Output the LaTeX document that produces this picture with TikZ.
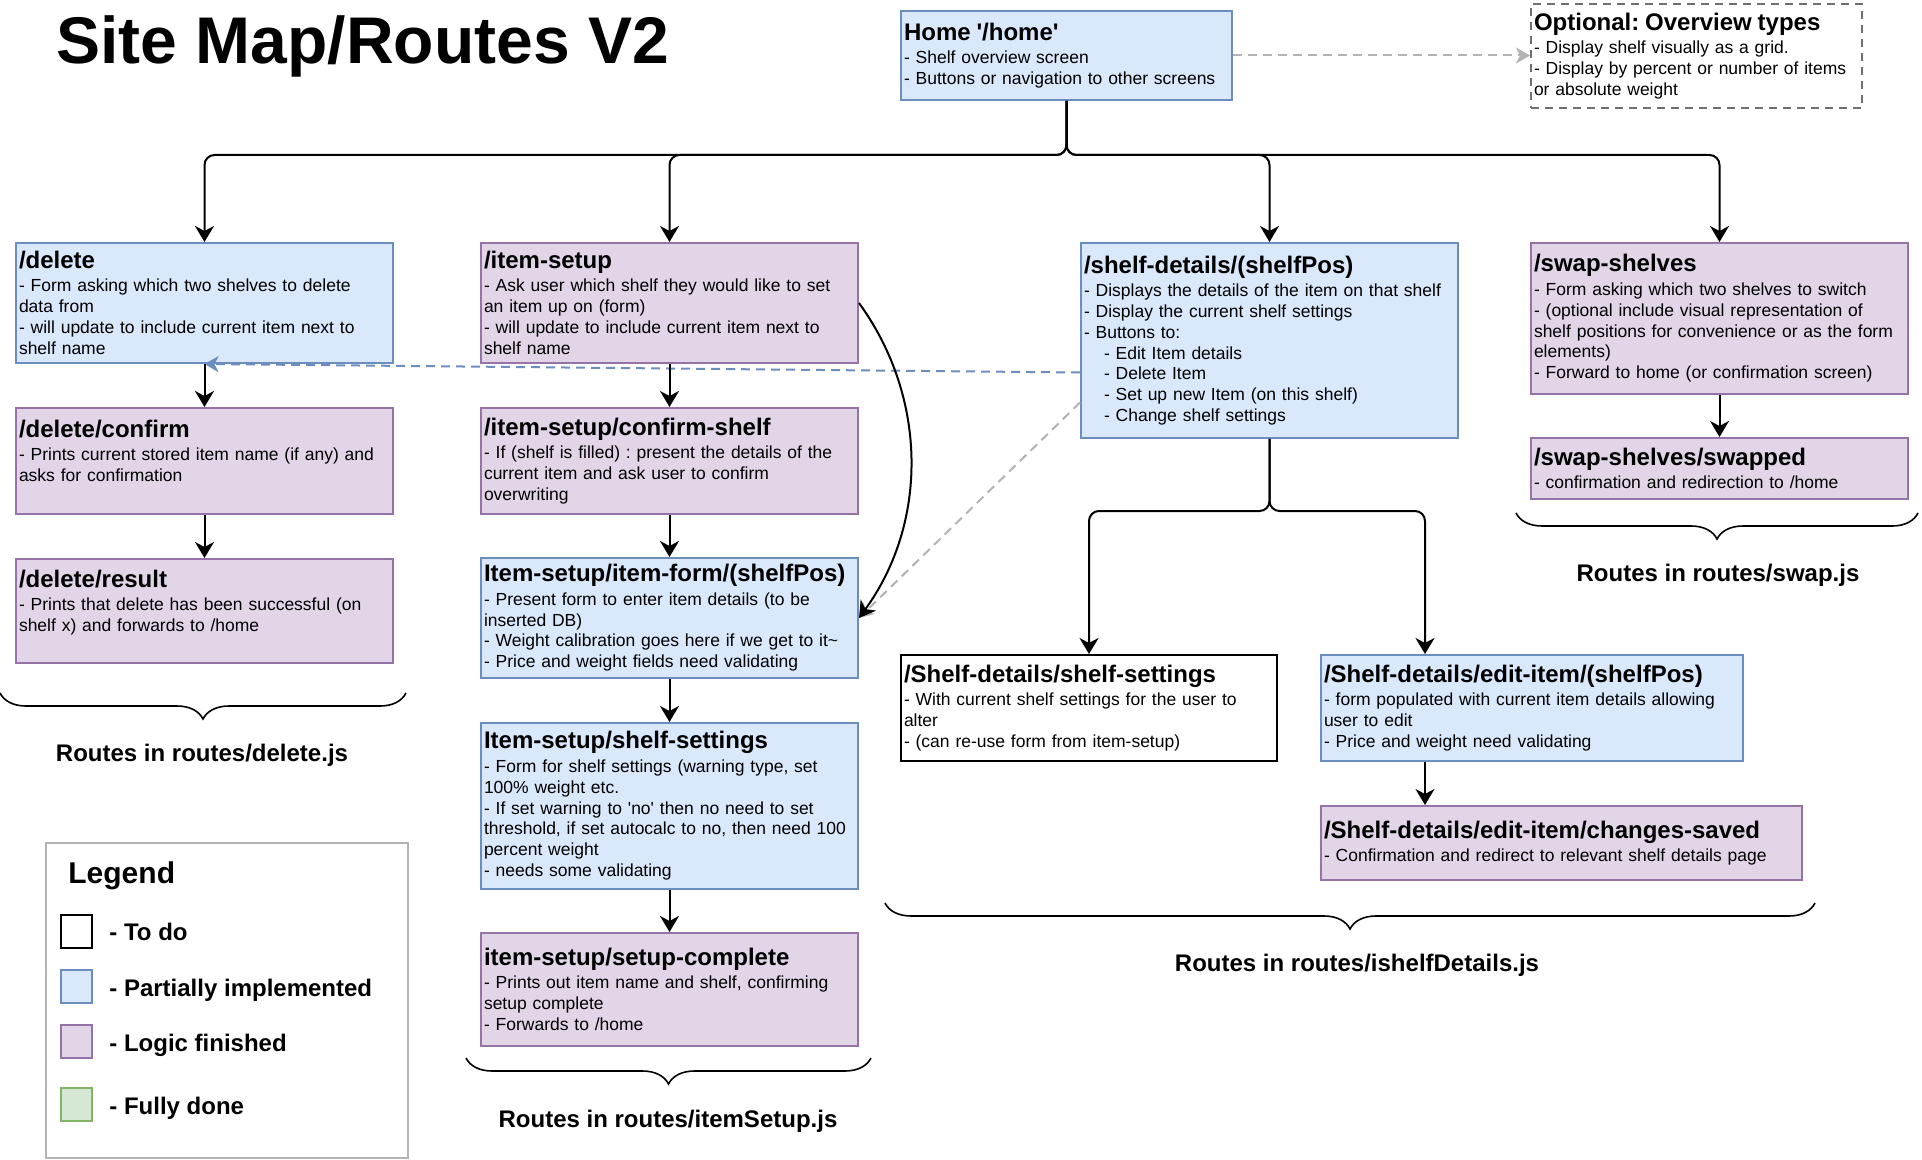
\documentclass[tikz,border=0pt]{standalone}
\usepackage{fontspec}
\setmainfont{Liberation Sans}
\usetikzlibrary{arrows.meta,decorations.pathreplacing}
\definecolor{partfill}{HTML}{DAE8FC}
\definecolor{partline}{HTML}{6C8EBF}
\definecolor{logicfill}{HTML}{E1D5E7}
\definecolor{logicline}{HTML}{9673A6}
\definecolor{donefill}{HTML}{D5E8D4}
\definecolor{doneline}{HTML}{82B366}
\definecolor{hintgrey}{HTML}{B3B3B3}
\definecolor{optgrey}{HTML}{707070}
\frenchspacing
\newcommand{\boxhead}[1]{{\fontsize{12}{14}\selectfont\bfseries #1\par}\vspace{1.2pt}}
\tikzset{
  box/.style={draw, line width=1pt, anchor=north west, align=left, inner xsep=1.5pt, inner ysep=1pt,
    text width=185.5pt, font=\fontsize{8.75}{10.45}\selectfont},
  partbox/.style={box, draw=partline, fill=partfill},
  logicbox/.style={box, draw=logicline, fill=logicfill},
  todobox/.style={box, draw=black, fill=white},
  optbox/.style={box, draw=optgrey, dash pattern=on 4pt off 3pt, fill=white},
  flow/.style={line width=1pt, rounded corners=5pt, -{Stealth[length=8pt,width=9.5pt,inset=2.5pt]}},
  linkdash/.style={line width=1pt, draw=partline, dash pattern=on 4.5pt off 3pt, -{Stealth[length=7pt,width=8pt,inset=2pt]}},
  hintdash/.style={line width=1pt, draw=hintgrey, dash pattern=on 4.5pt off 3pt, -{Stealth[length=7pt,width=8pt,inset=2pt]}},
  routebrace/.style={line width=0.8pt, decorate, decoration={brace, mirror, amplitude=13pt}},
  routelabel/.style={anchor=base, inner sep=0pt, font=\fontsize{12}{14}\selectfont\bfseries},
  swatch/.style={anchor=north west, minimum width=15.5pt, minimum height=16.5pt, inner sep=0pt, line width=1pt},
  swatchlabel/.style={anchor=base west, inner sep=0pt, font=\fontsize{12}{14}\selectfont\bfseries}
}
\begin{document}
\begin{tikzpicture}[x=0.5pt, y=-0.5pt]
\useasboundingbox (0,0) rectangle (1922,1160);
\node[anchor=base west, inner sep=0pt, font=\fontsize{33}{39}\selectfont\bfseries] (title) at (56,64) {Site Map/Routes V2};

\node[partbox, text width=162.5pt, minimum height=44.5pt] (home) at (900,10) {\boxhead{Home \textquotesingle/home\textquotesingle}- Shelf overview screen\\- Buttons or navigation to other screens};
\node[optbox, text width=162.5pt, minimum height=52pt] (optional) at (1530,3) {\boxhead{Optional: Overview types}- Display shelf visually as a grid.\\- Display by percent or number of items\\or absolute weight};

\node[partbox, minimum height=60pt] (delete) at (15,242) {\boxhead{/delete}- Form asking which two shelves to delete\\data from\\- will update to include current item next to\\shelf name};
\node[logicbox, minimum height=53pt] (delconfirm) at (15,407) {\boxhead{/delete/confirm}- Prints current stored item name (if any) and\\asks for confirmation\\\mbox{}};
\node[logicbox, minimum height=52pt] (delresult) at (15,558) {\boxhead{/delete/result}- Prints that delete has been successful (on\\shelf x) and forwards to /home\\\mbox{}};

\node[logicbox, minimum height=60pt] (itemsetup) at (480,242) {\boxhead{/item-setup}- Ask user which shelf they would like to set\\an item up on (form)\\- will update to include current item next to\\shelf name};
\node[logicbox, minimum height=53pt] (confirmshelf) at (480,407) {\boxhead{/item-setup/confirm-shelf}- If (shelf is filled) : present the details of the\\current item and ask user to confirm\\overwriting};
\node[partbox, minimum height=60pt] (itemform) at (480,557) {\boxhead{Item-setup/item-form/(shelfPos)}- Present form to enter item details (to be\\inserted DB)\\- Weight calibration goes here if we get to it\textasciitilde\\- Price and weight fields need validating};
\node[partbox, minimum height=83pt] (itemsettings) at (480,722) {\boxhead{Item-setup/shelf-settings}- Form for shelf settings (warning type, set\\100\% weight etc.\\- If set warning to \textquotesingle no\textquotesingle\ then no need to set\\threshold, if set autocalc to no, then need 100\\percent weight\\- needs some validating};
\node[logicbox, minimum height=56.5pt] (setupdone) at (480,932) {\boxhead{item-setup/setup-complete}- Prints out item name and shelf, confirming\\setup complete\\- Forwards to /home};

\node[partbox, minimum height=97.5pt] (shelfdetails) at (1080,242) {\boxhead{/shelf-details/(shelfPos)}- Displays the details of the item on that shelf\\- Display the current shelf settings\\- Buttons to:\\\hspace*{10pt}- Edit Item details\\\hspace*{10pt}- Delete Item\\\hspace*{10pt}- Set up new Item (on this shelf)\\\hspace*{10pt}- Change shelf settings};
\node[todobox, text width=185pt, minimum height=53pt] (shelfsettings) at (900,654) {\boxhead{/Shelf-details/shelf-settings}- With current shelf settings for the user to\\alter\\- (can re-use form from item-setup)};
\node[partbox, text width=208pt, minimum height=53pt] (edititem) at (1320,654) {\boxhead{/Shelf-details/edit-item/(shelfPos)}- form populated with current item details allowing\\user to edit\\- Price and weight need validating};
\node[logicbox, text width=237.5pt, minimum height=37pt] (saved) at (1320,805) {\boxhead{/Shelf-details/edit-item/changes-saved}- Confirmation and redirect to relevant shelf details page};

\node[logicbox, minimum height=75.5pt] (swap) at (1530,242) {\boxhead{/swap-shelves}- Form asking which two shelves to switch\\- (optional include visual representation of\\shelf positions for convenience or as the form\\elements)\\- Forward to home (or confirmation screen)};
\node[logicbox, minimum height=30.5pt] (swapped) at (1530,437) {\boxhead{/swap-shelves/swapped}- confirmation and redirection to /home};

\draw[hintdash] (home.east) -- (home.east -| optional.west);
\draw[linkdash] ([yshift=-16pt]shelfdetails.west) -- (delete.south);
\draw[hintdash] ([yshift=-31pt]shelfdetails.west) -- (itemform.east);

\draw[flow] (home.south) -- ++(0,54) -| (delete.north);
\draw[flow] (home.south) -- ++(0,54) -| (itemsetup.north);
\draw[flow] (home.south) -- ++(0,54) -| (shelfdetails.north);
\draw[flow] (home.south) -- ++(0,54) -| (swap.north);

\draw[flow] (delete.south) -- (delconfirm.north);
\draw[flow] (delconfirm.south) -- (delresult.north);
\draw[flow] (itemsetup.south) -- (confirmshelf.north);
\draw[flow] (confirmshelf.south) -- (itemform.north);
\draw[flow] (itemform.south) -- (itemsettings.north);
\draw[flow] (itemsettings.south) -- (setupdone.north);
\draw[flow] (itemsetup.east) .. controls +(69,95) and +(69,-95) .. (itemform.east);
\draw[flow] (swap.south) -- (swapped.north);

\coordinate (editin) at ([xshift=-53.5pt]edititem.north);
\draw[flow] (shelfdetails.south) -- ++(0,72) -| (shelfsettings.north);
\draw[flow] (shelfdetails.south) -- ++(0,72) -| (editin);
\draw[flow] (edititem.south -| editin) -- (saved.north -| editin);

\draw[routebrace] (0,693) -- (406,693);
\node[routelabel] (deletejs) at (202,761) {Routes in routes/delete.js};
\draw[routebrace] (466,1058) -- (871,1058);
\node[routelabel] (setupjs) at (668,1127) {Routes in routes/itemSetup.js};
\draw[routebrace] (885,903) -- (1815,903);
\node[routelabel] (detailsjs) at (1357,971) {Routes in routes/ishelfDetails.js};
\draw[routebrace] (1516,513) -- (1918,513);
\node[routelabel] (swapjs) at (1718,581) {Routes in routes/swap.js};

\node[draw=hintgrey, line width=1pt, anchor=north west, minimum width=181pt, minimum height=157.5pt] (legend) at (45,842) {};
\node[anchor=base west, inner sep=0pt, font=\fontsize{15}{18}\selectfont\bfseries] (legendtitle) at (68,883) {Legend};
\node[swatch, draw=black, fill=white] (todo) at (60,914) {};
\node[swatch, draw=partline, fill=partfill] (partial) at (60,969) {};
\node[swatch, draw=logicline, fill=logicfill] (logic) at (60,1024) {};
\node[swatch, draw=doneline, fill=donefill] (done) at (60,1087) {};
\node[swatchlabel] (todotext) at (109,940) {- To do};
\node[swatchlabel] (partialtext) at (109,996) {- Partially implemented};
\node[swatchlabel] (logictext) at (109,1051) {- Logic finished};
\node[swatchlabel] (donetext) at (109,1114) {- Fully done};
\end{tikzpicture}
\end{document}
